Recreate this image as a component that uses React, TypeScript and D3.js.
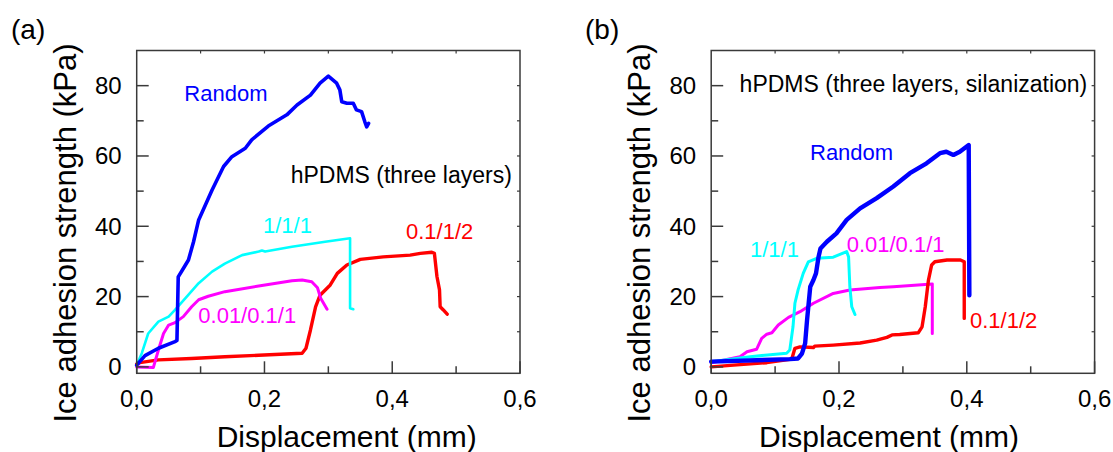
import React from 'react';
import * as d3 from 'd3';

// panel (a): hPDMS (three layers)
const aRandom = [[0, 0.5], [0.013, 3.2], [0.034, 5.3], [0.06, 7.2], [0.063, 7.5], [0.065, 25.6], [0.073, 28], [0.081, 30.4], [0.089, 35.6], [0.097, 41.8], [0.104, 44.6], [0.118, 50.3], [0.136, 57], [0.149, 59.8], [0.17, 62.2], [0.18, 64.6], [0.206, 68.5], [0.235, 71.7], [0.251, 74.5], [0.272, 77.3], [0.287, 80.7], [0.3, 82.7], [0.313, 80.7], [0.318, 78.8], [0.321, 75.4], [0.329, 75], [0.339, 75], [0.344, 73.1], [0.352, 72.6], [0.357, 69.8], [0.36, 68.3], [0.363, 69.3]];
const a111 = [[0, 0.5], [0.008, 3.9], [0.018, 9.5], [0.034, 12.9], [0.05, 14.3], [0.06, 16.2], [0.076, 19.5], [0.097, 23.8], [0.118, 27.1], [0.138, 29.4], [0.165, 31.8], [0.191, 32.8], [0.196, 33.1], [0.201, 32.8], [0.243, 34.2], [0.295, 35.6], [0.334, 36.6], [0.334, 16.7], [0.339, 16.4]];
const a001 = [[0, 0], [0.026, -0.2], [0.034, 4.8], [0.042, 9.5], [0.05, 11.9], [0.06, 12.6], [0.073, 14.3], [0.086, 17.1], [0.097, 19.1], [0.112, 20.1], [0.138, 21.4], [0.191, 23], [0.243, 24.5], [0.259, 24.7], [0.274, 24.2], [0.283, 22.5], [0.288, 19.5], [0.298, 16.4]];
const a012 = [[0, 0.8], [0.005, 1.2], [0.034, 2], [0.086, 2.4], [0.138, 2.9], [0.191, 3.3], [0.259, 3.9], [0.265, 5.3], [0.272, 10.5], [0.28, 17.1], [0.287, 20.4], [0.303, 23.3], [0.314, 26.6], [0.329, 29], [0.35, 30.6], [0.386, 31.3], [0.428, 31.8], [0.444, 32.3], [0.462, 32.6], [0.466, 32.3], [0.47, 25.7], [0.474, 21.9], [0.475, 17.1], [0.48, 16.2], [0.486, 15]];

// panel (b): hPDMS (three layers, silanization)
const bRandom = [[0, 1.5], [0.123, 2.2], [0.136, 2.4], [0.142, 3.8], [0.147, 6.7], [0.15, 13.3], [0.155, 22.8], [0.16, 24.7], [0.164, 26.6], [0.168, 31.3], [0.171, 33.7], [0.181, 35.6], [0.196, 38], [0.212, 41.8], [0.233, 45.1], [0.259, 48], [0.285, 51.3], [0.311, 55.1], [0.337, 57.9], [0.358, 60.8], [0.368, 61.2], [0.379, 60.3], [0.389, 61.2], [0.403, 63.1], [0.404, 20.4]];
const b111 = [[0, 1.5], [0.061, 2.9], [0.118, 3.9], [0.123, 4.8], [0.128, 11.4], [0.131, 18.1], [0.136, 21.9], [0.144, 26.6], [0.152, 29.9], [0.165, 30.9], [0.191, 31.2], [0.212, 32.8], [0.215, 31.3], [0.217, 22.8], [0.22, 17.1], [0.225, 14.9]];
const b001 = [[0, 1.2], [0.045, 2.9], [0.056, 4.3], [0.071, 5], [0.079, 8.1], [0.087, 9.3], [0.095, 9.7], [0.105, 11.9], [0.121, 14.1], [0.139, 15.7], [0.16, 18.1], [0.191, 20.9], [0.217, 21.9], [0.264, 22.6], [0.285, 22.8], [0.346, 23.6], [0.346, 9.5]];
const b012 = [[0, 0], [0.035, 0.5], [0.087, 1.2], [0.126, 2.2], [0.131, 5.3], [0.139, 5.7], [0.16, 5.5], [0.162, 5.9], [0.191, 6.2], [0.233, 6.8], [0.259, 7.6], [0.275, 8.4], [0.283, 9.1], [0.295, 9.2], [0.324, 9.7], [0.33, 11.4], [0.335, 17.1], [0.34, 24.7], [0.345, 29], [0.35, 29.9], [0.369, 30.4], [0.39, 30.4], [0.396, 29.9], [0.396, 13.8]];

const xMajor = [0, 0.2, 0.4, 0.6];
const xMinor = [0.1, 0.3, 0.5];
const xTickLabels = ['0,0', '0,2', '0,4', '0,6'];
const yMajor = [0, 20, 40, 60, 80];
const yMinor = [10, 30, 50, 70];
const edgeX = [0.1, 0.2, 0.3, 0.4, 0.5];
const edgeY = [10, 20, 30, 40, 50, 60, 70, 80];

const BLUE = '#0000ff', CYAN = '#00ffff', MAGENTA = '#ff00ff', RED = '#ff0000';
const FONT = 'Liberation Sans, Arial, sans-serif';

const panels = [
  {
    tag: '(a)', tagX: 11, left: 136.7, right: 520, ylabX: 75.5, xlabX: 346.7,
    note: { text: 'hPDMS (three layers)', x: 290.7, y: 183.3 },
    series: [
      { data: a012, color: RED, w: 3.4, label: '0.1/1/2', lx: 406, ly: 239.3 },
      { data: a001, color: MAGENTA, w: 3, label: '0.01/0.1/1', lx: 198.3, ly: 323.3 },
      { data: a111, color: CYAN, w: 2.6, label: '1/1/1', lx: 263, ly: 233.3 },
      { data: aRandom, color: BLUE, w: 3.6, label: 'Random', lx: 184.3, ly: 100.7 },
    ],
  },
  {
    tag: '(b)', tagX: 585, left: 711.2, right: 1094.6, ylabX: 650, xlabX: 889,
    note: { text: 'hPDMS (three layers, silanization)', x: 739.6, y: 91.7 },
    series: [
      { data: b001, color: MAGENTA, w: 3, label: '0.01/0.1/1', lx: 846.7, ly: 251.7 },
      { data: b111, color: CYAN, w: 3, label: '1/1/1', lx: 750, ly: 256.7 },
      { data: b012, color: RED, w: 3.4, label: '0.1/1/2', lx: 970, ly: 328.3 },
      { data: bRandom, color: BLUE, w: 4.4, label: 'Random', lx: 810, ly: 160 },
    ],
  },
];

const TOP = 50.5, BOTTOM = 373.3;
const AXIS = '#3a3a3a';

function Panel({ p }: { p: any }) {
  const x = d3.scaleLinear().domain([0, 0.6]).range([p.left, p.right]);
  const y = d3.scaleLinear().domain([-1.82, 90]).range([BOTTOM, TOP]);
  const line = d3.line<number[]>().x(d => x(d[0])).y(d => y(d[1]));
  return (
    <g>
      <text x={p.tagX} y={39} fontSize={28} fontFamily={FONT}>{p.tag}</text>
      {p.series.map((s: any, i: number) => (
        <path key={i} d={line(s.data) || ''} fill="none" stroke={s.color} strokeWidth={s.w}
          strokeLinejoin="round" strokeLinecap="round" />
      ))}
      <rect x={p.left} y={TOP} width={p.right - p.left} height={BOTTOM - TOP} fill="none" stroke={AXIS} strokeWidth={1.5} />
      {xMajor.map(v => <line key={'xM' + v} x1={x(v)} x2={x(v)} y1={BOTTOM} y2={BOTTOM - 12} stroke={AXIS} strokeWidth={1.5} />)}
      {xMinor.map(v => <line key={'xm' + v} x1={x(v)} x2={x(v)} y1={BOTTOM} y2={BOTTOM - 7} stroke={AXIS} strokeWidth={1.5} />)}
      {edgeX.map(v => <line key={'xt' + v} x1={x(v)} x2={x(v)} y1={TOP} y2={TOP + 3} stroke={AXIS} strokeWidth={1.2} />)}
      {yMajor.map(v => <line key={'yM' + v} x1={p.left} x2={p.left + 12} y1={y(v)} y2={y(v)} stroke={AXIS} strokeWidth={1.5} />)}
      {yMinor.map(v => <line key={'ym' + v} x1={p.left} x2={p.left + 7} y1={y(v)} y2={y(v)} stroke={AXIS} strokeWidth={1.5} />)}
      {edgeY.map(v => <line key={'yr' + v} x1={p.right} x2={p.right - 3} y1={y(v)} y2={y(v)} stroke={AXIS} strokeWidth={1.2} />)}
      {xMajor.map((v, i) => (
        <text key={'xl' + v} x={x(v)} y={406.7} fontSize={24} fontFamily={FONT} textAnchor="middle">{xTickLabels[i]}</text>
      ))}
      {yMajor.map(v => (
        <text key={'yl' + v} x={p.left - 15} y={y(v) + 8.5} fontSize={24} fontFamily={FONT} textAnchor="end">{v}</text>
      ))}
      <text x={p.xlabX} y={446.7} fontSize={30} fontFamily={FONT} textAnchor="middle">Displacement (mm)</text>
      <text transform={`translate(${p.ylabX},233) rotate(-90)`} fontSize={31} fontFamily={FONT} textAnchor="middle">Ice adhesion strength (kPa)</text>
      <text x={p.note.x} y={p.note.y} fontSize={23} fontFamily={FONT}>{p.note.text}</text>
      {p.series.map((s: any, i: number) => (
        <text key={'lab' + i} x={s.lx} y={s.ly} fontSize={22} fontFamily={FONT} fill={s.color}>{s.label}</text>
      ))}
    </g>
  );
}

export default function App() {
  return (
    <svg width={1113} height={452} viewBox="0 0 1113 452"
      style={{ position: 'absolute', left: 0, top: 0, background: '#fff' }}>
      <rect width={1113} height={452} fill="#fff" />
      {panels.map(p => <Panel key={p.tag} p={p} />)}
    </svg>
  );
}
